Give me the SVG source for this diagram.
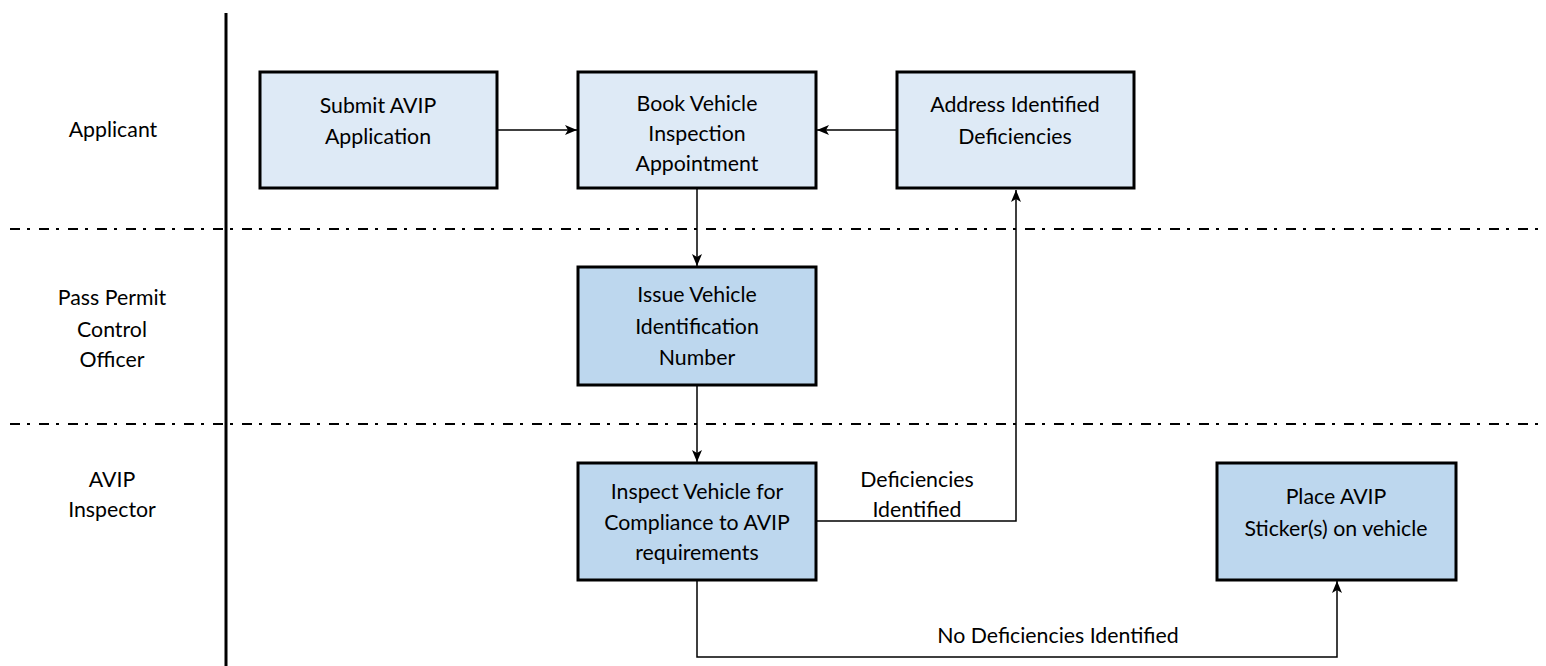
<svg xmlns="http://www.w3.org/2000/svg" width="1546" height="666" viewBox="0 0 1546 666">
<style>
text{font-family:Lato,"Open Sans","Liberation Sans",sans-serif;font-size:21.3px;fill:#000;text-anchor:middle}
.b1{fill:#DEEAF6;stroke:#000;stroke-width:3}
.b2{fill:#BDD7EE;stroke:#000;stroke-width:3}
.c{fill:none;stroke:#000;stroke-width:1.5}
.lane{fill:none;stroke:#000;stroke-width:2;stroke-dasharray:10 7 3 9}
</style>
<defs>
<marker id="ah" viewBox="0 0 12 10" refX="12" refY="5" markerWidth="12" markerHeight="10" markerUnits="userSpaceOnUse" orient="auto">
<path d="M0,0 L12,5 L0,10 L3,5 z" fill="#000"/>
</marker>
</defs>
<g id="lanes">
<line x1="226" y1="13" x2="226" y2="666" stroke="#000" stroke-width="3"/>
<line class="lane" x1="10" y1="229" x2="1540" y2="229"/>
<line class="lane" x1="10" y1="424" x2="1540" y2="424"/>
<text x="113" y="137">Applicant</text>
<text x="112" y="305">Pass Permit</text>
<text x="112" y="337">Control</text>
<text x="112" y="367">Officer</text>
<text x="112" y="487">AVIP</text>
<text x="112" y="517">Inspector</text>
</g>
<g id="connectors">
<line class="c" x1="497" y1="130" x2="577" y2="130" marker-end="url(#ah)"/>
<line class="c" x1="897" y1="130" x2="817" y2="130" marker-end="url(#ah)"/>
<line class="c" x1="697" y1="189" x2="697" y2="266" marker-end="url(#ah)"/>
<line class="c" x1="697" y1="386" x2="697" y2="462" marker-end="url(#ah)"/>
<polyline class="c" points="817,521 1016,521 1016,190" marker-end="url(#ah)"/>
<polyline class="c" points="697,581 697,657 1337,657 1337,581" marker-end="url(#ah)"/>
<text x="917" y="487">Deficiencies</text>
<text x="917" y="517">Identified</text>
<text x="1058" y="643">No Deficiencies Identified</text>
</g>
<g id="n1">
<rect class="b1" x="260" y="72" width="237" height="116"/>
<text x="378" y="113">Submit AVIP</text>
<text x="378" y="144">Application</text>
</g>
<g id="n2">
<rect class="b1" x="578" y="72" width="238" height="116"/>
<text x="697" y="111">Book Vehicle</text>
<text x="697" y="141">Inspection</text>
<text x="697" y="171">Appointment</text>
</g>
<g id="n3">
<rect class="b1" x="897" y="72" width="237" height="116"/>
<text x="1015" y="112">Address Identified</text>
<text x="1015" y="144">Deficiencies</text>
</g>
<g id="n4">
<rect class="b2" x="578" y="267" width="238" height="118"/>
<text x="697" y="302">Issue Vehicle</text>
<text x="697" y="334">Identification</text>
<text x="697" y="365">Number</text>
</g>
<g id="n5">
<rect class="b2" x="578" y="463" width="238" height="117"/>
<text x="697" y="499">Inspect Vehicle for</text>
<text x="697" y="530">Compliance to AVIP</text>
<text x="697" y="560">requirements</text>
</g>
<g id="n6">
<rect class="b2" x="1217" y="463" width="239" height="117"/>
<text x="1336" y="504">Place AVIP</text>
<text x="1336" y="536">Sticker(s) on vehicle</text>
</g>
</svg>
